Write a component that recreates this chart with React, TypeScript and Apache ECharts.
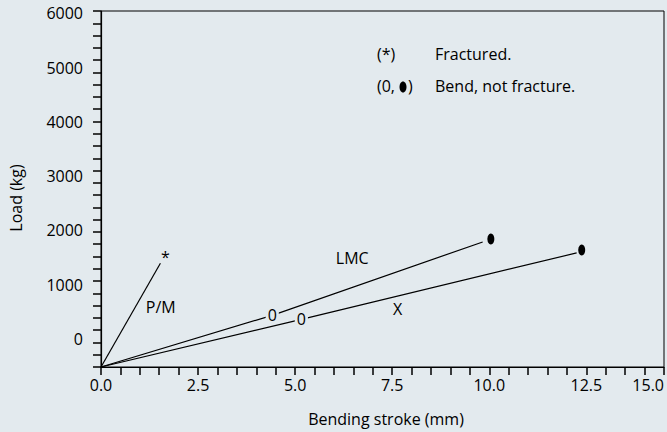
import React, { useEffect, useRef } from "react";
import * as echarts from "echarts";

// ---- data ----
const yLabelValues = [0, 1000, 2000, 3000, 4000, 5000, 6000];
const xLabelValues = [0, 2.5, 5, 7.5, 10, 12.5];
const xLastTickLabel = "15.0";

const pmLine = [[0, -520], [1.53, 1394]];
const lmcLine = [[0, -520], [4.41, 433], [9.83, 1786]];
const xLine = [[0, -520], [5.16, 359], [12.25, 1584]];

const fracturedPoints = [[1.66, 1589]];
const bendDots = [[10.04, 1842], [12.38, 1639]];
const bendZeros = [[4.41, 433], [5.16, 359]];

const curveNames = ["P/M", "LMC", "X"];
const curveNamePositions = [[1.54, 589], [6.47, 1486], [7.64, 547]];

const BG = "#e3eaee";
const FONT = '"Open Sans", "DejaVu Sans", sans-serif';

export default function App() {
  const ref = useRef<HTMLDivElement>(null);
  useEffect(() => {
    if (!ref.current) return;
    const chart = echarts.init(ref.current, null, { renderer: "svg" });
    const lineStyle = { color: "#000", width: 1.2 };
    const labelBase = { color: "#000", fontSize: 16, fontFamily: FONT };
    const option: any = {
      animation: false,
      backgroundColor: BG,
      textStyle: { fontFamily: FONT },
      grid: {
        left: 101,
        right: 2,
        top: 11,
        bottom: 65,
        show: true,
        borderColor: "#000",
        borderWidth: 1,
        backgroundColor: "transparent",
      },
      xAxis: {
        type: "value",
        min: 0,
        max: 14.5,
        interval: 0.5,
        axisLine: { show: true, onZero: false, lineStyle: { color: "#000", width: 1.2 } },
        axisTick: { show: true, inside: false, length: 8, lineStyle: { color: "#000", width: 1.5 } },
        splitLine: { show: false },
        axisLabel: {
          ...labelBase,
          margin: 10,
          alignMaxLabel: "right",
          formatter: (v: number) => {
            if (Math.abs(v - 14.5) < 1e-6) return xLastTickLabel;
            const hit = xLabelValues.find((t) => Math.abs(t - v) < 1e-6);
            return hit !== undefined ? hit.toFixed(1) : "";
          },
        },
      },
      yAxis: [
        {
          type: "value",
          min: -520,
          max: 6045,
          axisLine: { show: true, onZero: false, lineStyle: { color: "#000", width: 1.2 } },
          axisTick: { show: false },
          splitLine: { show: false },
          axisLabel: {
            ...labelBase,
            customValues: yLabelValues,
            margin: 18,
            formatter: (v: number) => String(v),
          },
        },
        {
          type: "value",
          min: 0,
          max: 29,
          interval: 1,
          position: "left",
          axisLine: { show: false, onZero: false },
          axisTick: { show: true, inside: false, length: 8, lineStyle: { color: "#000", width: 1.5 } },
          axisLabel: { show: false },
          splitLine: { show: false },
        },
      ],
      series: [
        { type: "line", data: pmLine, showSymbol: false, lineStyle, silent: true, z: 2 },
        { type: "line", data: lmcLine, showSymbol: false, lineStyle, silent: true, z: 2 },
        { type: "line", data: xLine, showSymbol: false, lineStyle, silent: true, z: 2 },
        {
          type: "scatter",
          data: bendDots,
          symbol: "circle",
          symbolSize: [7, 11],
          itemStyle: { color: "#000", opacity: 1 },
          z: 3,
        },
        {
          type: "scatter",
          data: bendZeros,
          symbolSize: 0,
          itemStyle: { opacity: 1 },
          z: 4,
          label: {
            ...labelBase,
            show: true,
            position: "inside",
            formatter: "0",
            fontSize: 16,
            backgroundColor: BG,
            padding: [0, 2],
          },
        },
        {
          type: "scatter",
          data: fracturedPoints,
          symbolSize: 0,
          itemStyle: { opacity: 1 },
          z: 4,
          label: {
            ...labelBase,
            show: true,
            position: "inside",
            formatter: "*",
            offset: [0, 4],
          },
        },
        {
          type: "scatter",
          data: curveNamePositions.map((p, i) => ({ value: p, name: curveNames[i] })),
          symbolSize: 0,
          itemStyle: { opacity: 1 },
          z: 4,
          label: {
            ...labelBase,
            show: true,
            position: "inside",
            formatter: (p: any) => p.name,
          },
        },
      ],
      graphic: [
        { type: "text", x: 377, y: 54, style: { text: "(*)", font: `16px ${FONT}`, fill: "#000", align: "left", verticalAlign: "middle" } },
        { type: "text", x: 435, y: 54, style: { text: "Fractured.", font: `16px ${FONT}`, fill: "#000", align: "left", verticalAlign: "middle" } },
        { type: "text", x: 377, y: 86, style: { text: "(0,", font: `16px ${FONT}`, fill: "#000", align: "left", verticalAlign: "middle" } },
        { type: "ellipse", shape: { cx: 403, cy: 87, rx: 3.5, ry: 5.5 }, style: { fill: "#000" } },
        { type: "text", x: 408, y: 86, style: { text: ")", font: `16px ${FONT}`, fill: "#000", align: "left", verticalAlign: "middle" } },
        { type: "text", x: 435, y: 86, style: { text: "Bend, not fracture.", font: `16px ${FONT}`, fill: "#000", align: "left", verticalAlign: "middle" } },
        { type: "text", x: 16, y: 198, rotation: Math.PI / 2, style: { text: "Load (kg)", font: `16px ${FONT}`, fill: "#000", align: "center", verticalAlign: "middle" } },
        { type: "text", x: 386, y: 419, style: { text: "Bending stroke (mm)", font: `16px ${FONT}`, fill: "#000", align: "center", verticalAlign: "middle" } },
      ],
    };
    chart.setOption(option);
    return () => chart.dispose();
  }, []);
  return (
    <div
      ref={ref}
      style={{ position: "fixed", left: 0, top: 0, width: 667, height: 432 }}
    />
  );
}
